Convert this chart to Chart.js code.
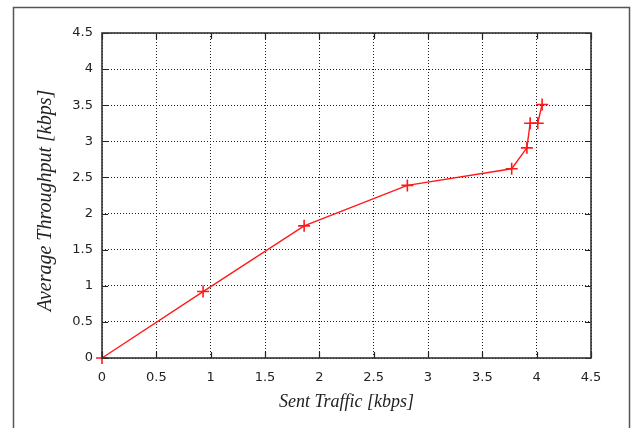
<!DOCTYPE html>
<html>
<head>
<meta charset="utf-8">
<script src="https://cdn.jsdelivr.net/npm/chart.js@4.4.1/dist/chart.umd.min.js"></script>
<style>
  body { margin: 0; background: #fff; }
  #wrap { width: 635px; height: 428px; position: relative; }
</style>
</head>
<body>
<div id="wrap"><canvas id="chart"></canvas></div>
<script>
// values
const sentTraffic = [0, 0.93, 1.86, 2.81, 3.77, 3.91, 3.94, 4.01, 4.05];
const avgThroughput = [0, 0.92, 1.83, 2.39, 2.62, 2.91, 3.25, 3.25, 3.51];
const axisMin = 0;
const axisMax = 4.5;
const axisStep = 0.5;

const points = sentTraffic.map((x, i) => ({ x: x, y: avgThroughput[i] }));

// plot frame, inward ticks on all four sides and the outer box
const framePlugin = {
  id: 'frame',
  beforeDraw(chart) {
    const ctx = chart.ctx;
    ctx.save();
    ctx.strokeStyle = '#555';
    ctx.lineWidth = 1.5;
    ctx.strokeRect(13.5, 7.5, 616, 440);
    ctx.restore();
  },
  afterDatasetsDraw(chart) {
    const ctx = chart.ctx;
    const a = chart.chartArea;
    const xs = chart.scales.x;
    const ys = chart.scales.y;
    const len = 6;
    ctx.save();
    ctx.strokeStyle = '#222';
    ctx.lineWidth = 1.2;
    ctx.beginPath();
    xs.ticks.forEach(t => {
      const px = Math.round(xs.getPixelForValue(t.value)) + 0.5;
      ctx.moveTo(px, a.bottom); ctx.lineTo(px, a.bottom - len);
      ctx.moveTo(px, a.top); ctx.lineTo(px, a.top + len);
    });
    ys.ticks.forEach(t => {
      const py = Math.round(ys.getPixelForValue(t.value)) + 0.5;
      ctx.moveTo(a.left, py); ctx.lineTo(a.left + len, py);
      ctx.moveTo(a.right, py); ctx.lineTo(a.right - len, py);
    });
    ctx.stroke();
    ctx.lineWidth = 1.6;
    ctx.strokeStyle = '#333';
    ctx.strokeRect(a.left, a.top, a.right - a.left, a.bottom - a.top);
    ctx.restore();
  }
};

new Chart(document.getElementById('chart'), {
  type: 'scatter',
  data: {
    datasets: [{
      data: points,
      showLine: true,
      borderColor: '#ff1a1a',
      backgroundColor: '#ff1a1a',
      borderWidth: 1.4,
      pointStyle: 'cross',
      pointRadius: 6,
      pointBorderWidth: 1.6,
      pointHoverRadius: 6,
      clip: false
    }]
  },
  options: {
    responsive: true,
    maintainAspectRatio: false,
    animation: false,
    layout: { padding: { left: 0, right: 44, top: 33, bottom: 0 } },
    plugins: {
      legend: { display: false },
      tooltip: { enabled: false }
    },
    scales: {
      x: {
        type: 'linear',
        min: axisMin,
        max: axisMax,
        afterFit(scale) { scale.height = 70; },
        ticks: {
          stepSize: axisStep,
          padding: 12,
          color: '#222',
          font: { family: 'DejaVu Sans', size: 13 },
          callback: v => String(v)
        },
        grid: {
          drawTicks: false,
          color: '#222',
          lineWidth: 1
        },
        border: { display: false, dash: [1, 2] },
        title: {
          display: true,
          text: 'Sent Traffic [kbps]',
          color: '#222',
          font: { family: 'Liberation Serif', size: 18, style: 'italic' },
          padding: { top: 0, bottom: 15 }
        }
      },
      y: {
        type: 'linear',
        min: axisMin,
        max: axisMax,
        afterFit(scale) { scale.width = 102; },
        ticks: {
          stepSize: axisStep,
          padding: 9,
          color: '#222',
          font: { family: 'DejaVu Sans', size: 13 },
          callback: v => String(v)
        },
        grid: {
          drawTicks: false,
          color: '#222',
          lineWidth: 1
        },
        border: { display: false, dash: [1, 2] },
        title: {
          display: true,
          text: 'Average Throughput [kbps]\u00a0\u00a0',
          color: '#222',
          font: { family: 'Liberation Serif', size: 20, style: 'italic' },
          padding: { top: 34, bottom: 0 }
        }
      }
    }
  },
  plugins: [framePlugin]
});
</script>
</body>
</html>
